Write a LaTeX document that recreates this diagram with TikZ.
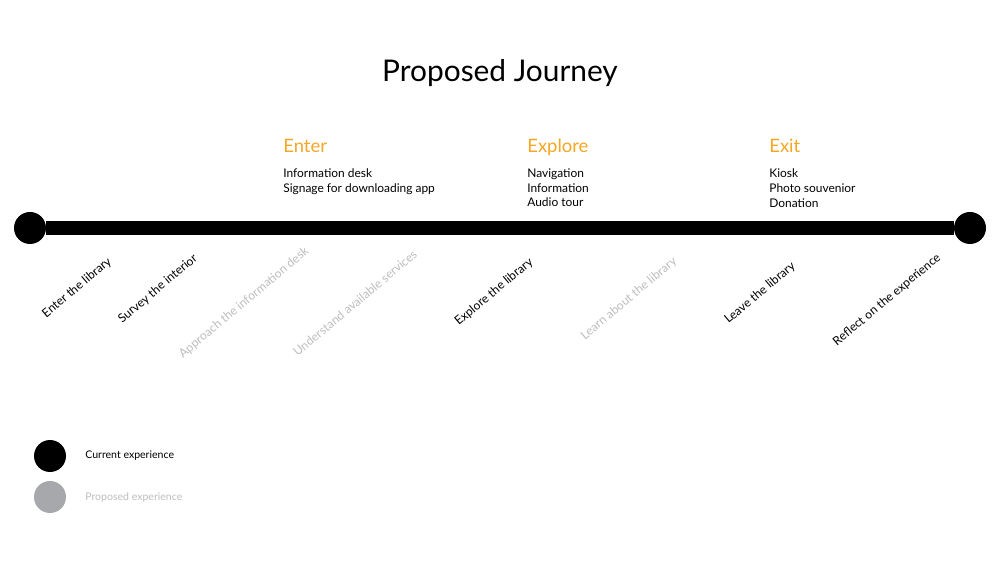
\documentclass[tikz,border=0pt]{standalone}
\usepackage{fontspec}
\setmainfont{Lato}
\usepackage{tikz}
\usetikzlibrary{positioning}

\definecolor{phaseorange}{HTML}{F5A623}
\definecolor{lightgray}{HTML}{BDBDBD}
\definecolor{dotgray}{HTML}{A7A8AB}

\tikzset{
    stepnow/.style={rotate=40, font=\fontsize{6.9}{8.5}\selectfont, inner sep=0pt},
    stepnew/.style={stepnow, text=lightgray},
    phasehead/.style={anchor=base west, inner sep=0pt, text=phaseorange, font=\fontsize{10.5}{12}\selectfont},
    phaseitems/.style={anchor=north west, inner sep=0pt, align=left, font=\fontsize{6.8}{8.5}\selectfont},
    dot/.style={circle, minimum size=32*0.02cm, inner sep=0pt},
}

\begin{document}
\begin{tikzpicture}[x=0.02cm,y=-0.02cm]
    \useasboundingbox (0,0) rectangle (1000,563);

    \node (title) at (500,73) {\fontsize{17}{20}\selectfont Proposed Journey};

    % timeline
    \node[dot, fill=black] (start) at (30,228) {};
    \node[dot, fill=black] (finish) at (970,228) {};
    \draw[line width=14*0.02cm] (start) -- (finish);

    % phases
    \node[phasehead] (enter) at (283,153) {Enter};
    \node[phaseitems] (enteritems) at (283,168) {Information desk\\Signage for downloading app};

    \node[phasehead] (explore) at (527,153) {Explore};
    \node[phaseitems] (exploreitems) at (527,168) {Navigation\\Information\\Audio tour};

    \node[phasehead] (exit) at (769,153) {Exit};
    \node[phaseitems] (exititems) at (769,168) {Kiosk\\Photo souvenior\\Donation};

    % steps
    \node[stepnow] (s1) at (77,288) {Enter the library};
    \node[stepnow] (s2) at (158,289) {Survey the interior};
    \node[stepnew] (s3) at (244,303) {Approach the information desk};
    \node[stepnew] (s4) at (355,303) {Understand available services};
    \node[stepnow] (s5) at (494,292) {Explore the library};
    \node[stepnew] (s6) at (629,299) {Learn about the library};
    \node[stepnow] (s7) at (760,293) {Leave the library};
    \node[stepnow] (s8) at (887,300) {Reflect on the experience};

    % legend
    \node[dot, fill=black] (keynow) at (50,456) {};
    \node[dot, fill=dotgray] (keynew) at (50,497) {};
    \node[anchor=west, inner sep=0pt, font=\fontsize{6}{8}\selectfont] (keynowtxt) at (85,456) {Current experience};
    \node[anchor=west, inner sep=0pt, text=lightgray, font=\fontsize{6}{8}\selectfont] (keynewtxt) at (85,498) {Proposed experience};
\end{tikzpicture}
\end{document}
